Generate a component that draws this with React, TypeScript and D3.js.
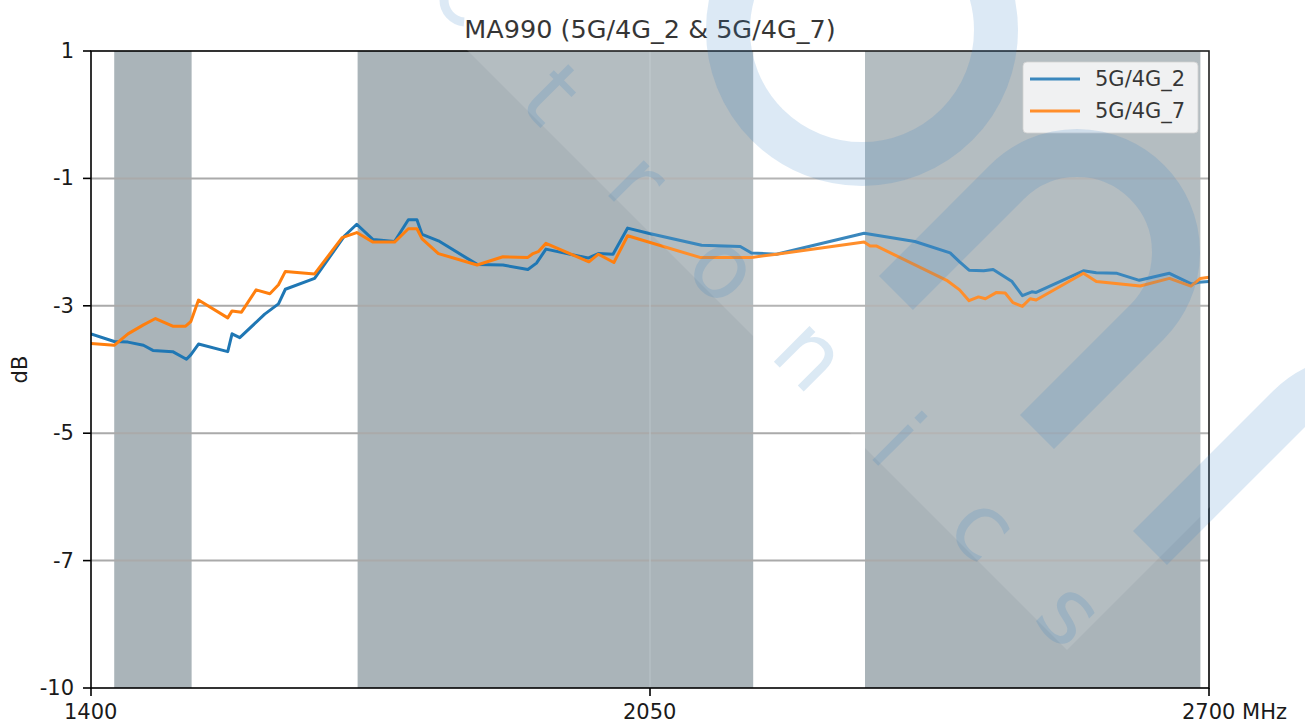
import React from 'react';
import * as d3 from 'd3';

const title = 'MA990 (5G/4G_2 & 5G/4G_7)';
const seriesNames = ['5G/4G_2', '5G/4G_7'];
const seriesColors = ['#1f77b4', '#ff7f0e'];

const freq2 = [1400, 1427, 1443, 1461, 1472, 1495, 1511, 1516, 1525, 1559, 1564, 1573, 1602, 1618, 1626, 1660, 1695, 1709, 1728, 1753, 1769, 1779, 1785, 1804, 1849, 1879, 1908, 1918, 1929, 1978, 1990, 2007, 2024, 2048, 2110, 2155, 2168, 2197, 2299, 2358, 2399, 2410, 2421, 2438, 2449, 2471, 2483, 2494, 2499, 2554, 2569, 2593, 2619, 2654, 2680, 2688, 2700];
const db2 = [-3.44, -3.56, -3.57, -3.62, -3.70, -3.72, -3.84, -3.77, -3.60, -3.72, -3.44, -3.50, -3.13, -2.97, -2.74, -2.57, -1.90, -1.72, -1.96, -1.99, -1.65, -1.65, -1.88, -1.98, -2.35, -2.36, -2.43, -2.33, -2.11, -2.25, -2.18, -2.19, -1.78, -1.86, -2.05, -2.07, -2.17, -2.19, -1.86, -1.99, -2.17, -2.31, -2.44, -2.45, -2.43, -2.62, -2.84, -2.78, -2.79, -2.45, -2.48, -2.49, -2.60, -2.49, -2.66, -2.63, -2.62];

const freq7 = [1400, 1427, 1443, 1461, 1475, 1495, 1510, 1516, 1525, 1559, 1564, 1575, 1592, 1608, 1618, 1626, 1660, 1692, 1709, 1728, 1753, 1769, 1779, 1785, 1804, 1849, 1879, 1908, 1914, 1920, 1929, 1979, 1990, 2008, 2024, 2108, 2168, 2197, 2299, 2306, 2313, 2395, 2410, 2421, 2432, 2440, 2453, 2463, 2472, 2483, 2492, 2499, 2554, 2569, 2620, 2654, 2679, 2690, 2700];
const db7 = [-3.59, -3.62, -3.44, -3.30, -3.20, -3.32, -3.32, -3.25, -2.91, -3.19, -3.08, -3.10, -2.75, -2.81, -2.67, -2.46, -2.50, -1.93, -1.85, -2.00, -2.00, -1.79, -1.79, -1.95, -2.18, -2.36, -2.23, -2.24, -2.18, -2.15, -2.02, -2.31, -2.19, -2.32, -1.90, -2.24, -2.24, -2.19, -2.00, -2.06, -2.06, -2.60, -2.75, -2.92, -2.86, -2.89, -2.79, -2.80, -2.95, -3.01, -2.89, -2.91, -2.49, -2.62, -2.69, -2.57, -2.69, -2.57, -2.55];

const bandStarts = [1427, 1710, 2300];
const bandEnds = [1517, 2170, 2690];

const xTicks = [1400, 2050, 2700];
const xTickLabels = ['1400', '2050', '2700 MHz'];
const yTicks = [1, -1, -3, -5, -7, -9];
const yTickLabels = ['1', '-1', '-3', '-5', '-7', '-10'];
const yGrid = [-1, -3, -5, -7];
const xGrid = [2050];
const yLabel = 'dB';
const watermarkLetters = ['t', 'r', 'o', 'n', 'i', 'c', 's'];

const W = 1305;
const H = 724;
const M = { left: 91, right: 96, top: 51, bottom: 36 };
const FONT = 'DejaVu Sans, sans-serif';

export default function App() {
  const x = d3.scaleLinear().domain([1400, 2700]).range([M.left, W - M.right]);
  const y = d3.scaleLinear().domain([-9, 1]).range([H - M.bottom, M.top]);
  const series = [
    freq2.map((f, i) => [f, db2[i]] as [number, number]),
    freq7.map((f, i) => [f, db7[i]] as [number, number]),
  ];
  const line = d3.line<[number, number]>().x(d => x(d[0])).y(d => y(d[1]));
  const x0 = M.left, x1 = W - M.right, y0 = M.top, y1 = H - M.bottom;

  const wmColor = '#2f7fc1';
  const wmOpacity = 0.17;
  // "n" shape of the logo watermark
  const cx = 1077, cy = 252, r = 99;
  const s = r / Math.SQRT2;
  const nPath = `M ${cx - s - 111} ${cy - s + 111} L ${cx - s} ${cy - s} A ${r} ${r} 0 0 1 ${cx + s} ${cy + s} L ${cx + s - 110} ${cy + s + 110}`;
  const cx2 = 1360, cy2 = 478;
  const n2Path = `M ${cx2 - s - 140} ${cy2 - s + 140} L ${cx2 - s} ${cy2 - s} A ${r} ${r} 0 0 1 ${cx2 + s} ${cy2 + s}`;
  // partially visible first letter "c" at the top edge, drawn as an arc
  const ccx = 466, ccy = 0, cr = 22;
  const a0 = (95 * Math.PI) / 180, a1 = (355 * Math.PI) / 180;
  const cPath = `M ${ccx + cr * Math.cos(a0)} ${ccy + cr * Math.sin(a0)} A ${cr} ${cr} 0 1 1 ${ccx + cr * Math.cos(a1)} ${ccy + cr * Math.sin(a1)}`;

  return (
    <svg width={W} height={H} style={{ position: 'absolute', left: 0, top: 0, background: '#fff' }} fontFamily={FONT}>
      <defs>
        <clipPath id="plot">
          <rect x={x0} y={y0} width={x1 - x0} height={y1 - y0} />
        </clipPath>
      </defs>
      {/* bands */}
      <g clipPath="url(#plot)">
        {bandStarts.map((b, i) => (
          <rect key={i} x={x(b)} y={y0} width={x(bandEnds[i]) - x(b)} height={y1 - y0} fill="#aab4b9" />
        ))}
      </g>
      {/* grid */}
      {yGrid.map(v => (
        <line key={v} x1={x0} x2={x1} y1={y(v)} y2={y(v)} stroke="#aaaaaa" strokeWidth={2} />
      ))}
      {xGrid.map(v => (
        <line key={v} x1={x(v)} x2={x(v)} y1={y0} y2={y1} stroke="#b7c3c9" strokeWidth={1.5} opacity={0.8} />
      ))}
      {/* series */}
      <g clipPath="url(#plot)">
        {series.map((d, i) => (
          <path key={i} d={line(d) || ''} fill="none" stroke={seriesColors[i]} strokeWidth={3} strokeLinejoin="round" />
        ))}
      </g>
      {/* spines */}
      <rect x={x0} y={y0} width={x1 - x0} height={y1 - y0} fill="none" stroke="#000" strokeWidth={1.6} />
      {/* ticks */}
      {yTicks.map((v, i) => (
        <g key={v}>
          <line x1={x0 - 8} x2={x0} y1={y(v)} y2={y(v)} stroke="#000" strokeWidth={1.6} />
          <text x={x0 - 17} y={y(v)} textAnchor="end" dominantBaseline="central" fontSize={21} fill="#1a1a1a">{yTickLabels[i]}</text>
        </g>
      ))}
      {xTicks.map((v, i) => (
        <g key={v}>
          <line x1={x(v)} x2={x(v)} y1={y1} y2={y1 + 8} stroke="#000" strokeWidth={1.6} />
          <text x={x(v) - 27} y={y1 + 31} textAnchor="start" fontSize={21} fill="#1a1a1a">{xTickLabels[i]}</text>
        </g>
      ))}
      <text transform={`translate(20, ${(y0 + y1) / 2}) rotate(-90)`} textAnchor="middle" dominantBaseline="central" fontSize={21} fill="#1a1a1a">{yLabel}</text>
      <text x={(x0 + x1) / 2} y={37.5} textAnchor="middle" fontSize={25.5} fill="#1a1a1a">{title}</text>
      {/* legend */}
      <g>
        <rect x={1023} y={62} width={175} height={71} rx={4} fill="#fff" fillOpacity={0.8} stroke="#cccccc" strokeOpacity={0.8} />
        {seriesNames.map((n, i) => (
          <g key={n}>
            <line x1={1030} x2={1080} y1={79 + i * 32} y2={79 + i * 32} stroke={seriesColors[i]} strokeWidth={3} />
            <text x={1095} y={79 + i * 32} dominantBaseline="central" fontSize={21} fill="#1a1a1a">{n}</text>
          </g>
        ))}
      </g>
      {/* watermark */}
      <g pointerEvents="none">
        <polygon points={`417,0 1067,650 1305,412 1305,0`} fill="#fff" opacity={0.12} />
        <circle cx={862} cy={30} r={134} fill="none" stroke={wmColor} strokeWidth={44} opacity={wmOpacity} />
        <path d={nPath} fill="none" stroke={wmColor} strokeWidth={48} opacity={wmOpacity} />
        <path d={n2Path} fill="none" stroke={wmColor} strokeWidth={48} opacity={wmOpacity} />
        <path d={cPath} fill="none" stroke={wmColor} strokeWidth={9} opacity={wmOpacity} />
        {watermarkLetters.map((ch, i) => (
          <text key={i} transform={`translate(${551.5 + i * 86.5}, ${94.5 + i * 86.5}) rotate(45)`} textAnchor="middle" dominantBaseline="central" fontSize={92} fill={wmColor} opacity={wmOpacity}>{ch}</text>
        ))}
      </g>
    </svg>
  );
}
